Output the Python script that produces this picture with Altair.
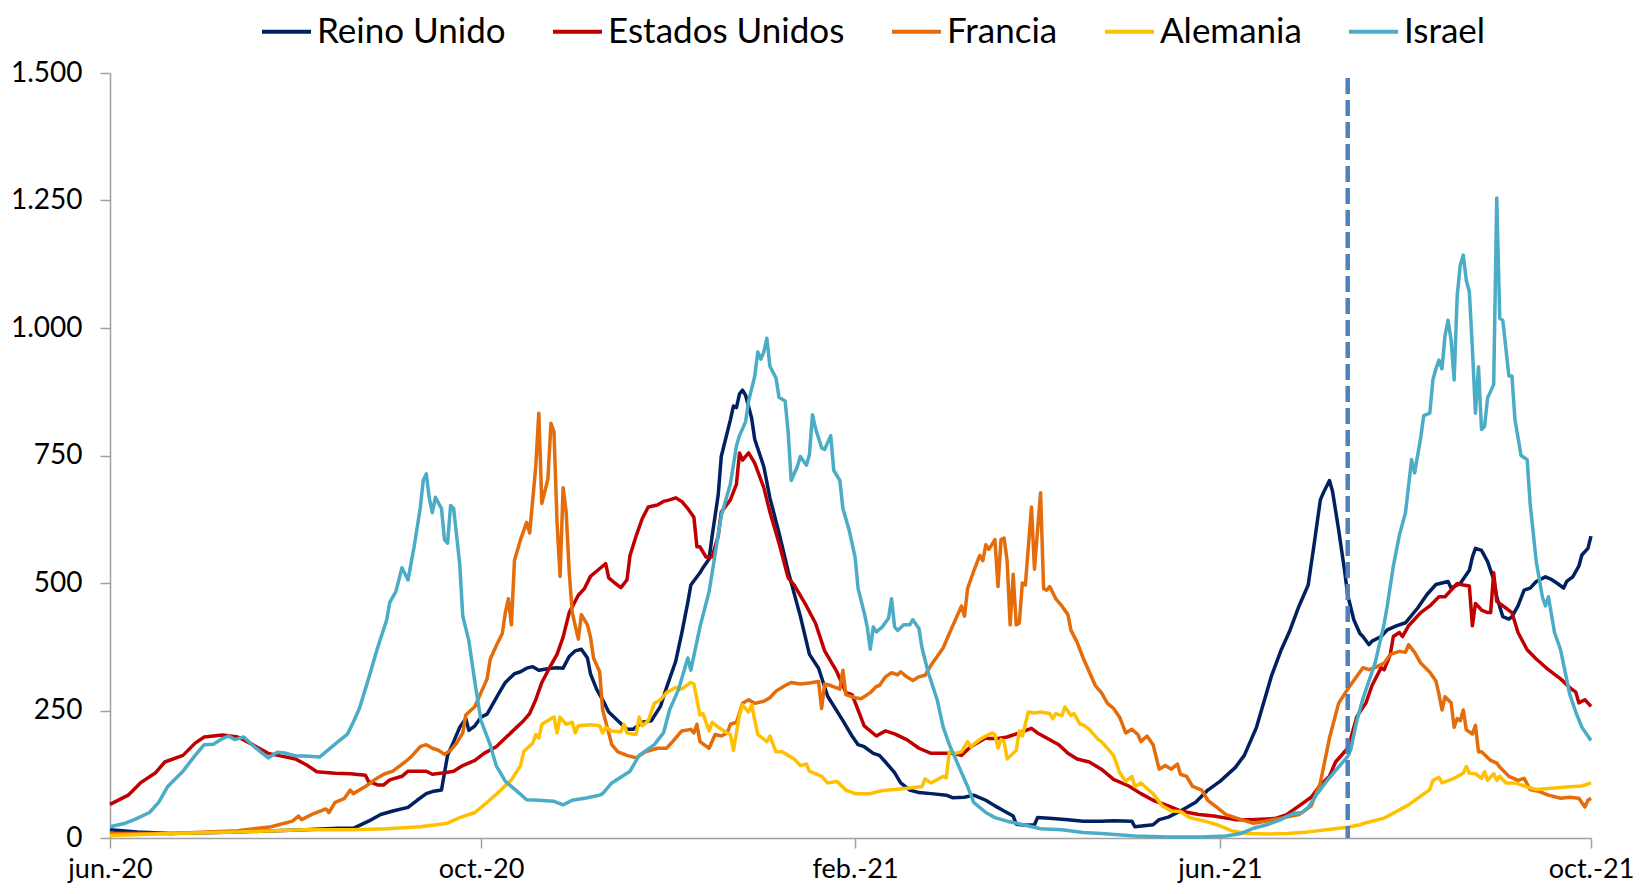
import altair as alt
import pandas as pd

# Días transcurridos desde el 1 de junio de 2020 y valores (casos por millón, media 7 días)
inicio = "2020-06-01"

reino_dias = [0, 9, 20, 42, 64, 75, 80, 85, 89, 93,
              98, 101, 104, 106, 109, 110, 111, 113, 115, 117,
              118, 120, 122, 124, 126, 128, 130, 133, 135, 137,
              139, 141, 145, 147, 149, 151, 153, 155, 157, 158,
              160, 162, 164, 167, 170, 172, 175, 178, 181, 183,
              186, 188, 190, 191, 194, 195, 197, 198, 200, 201,
              204, 205, 206, 207, 208, 209, 211, 212, 215, 217,
              220, 223, 227, 230, 233, 236, 241, 244, 246, 248,
              251, 253, 255, 258, 260, 263, 266, 270, 275, 277,
              281, 284, 288, 291, 294, 297, 298, 301, 304, 305,
              310, 315, 320, 326, 330, 336, 337, 343, 345, 348,
              352, 357, 361, 365, 370, 373, 377, 382, 385, 388,
              391, 394, 396, 398, 399, 401, 402, 404, 406, 407,
              409, 411, 412, 414, 415, 418, 420, 423, 426, 430,
              433, 436, 440, 441, 444, 447, 448, 449, 451, 453,
              455, 456, 458, 460, 461, 463, 465, 467, 469, 472,
              474, 476, 478, 479, 481, 483, 484, 486, 487]
reino_vals = [16, 12, 9, 12, 16, 19, 19, 33, 46, 53,
              60, 74, 87, 91, 94, 128, 162, 189, 217, 234,
              211, 220, 237, 243, 264, 285, 305, 322, 326, 333,
              336, 329, 333, 334, 333, 356, 367, 370, 353, 322,
              292, 271, 247, 230, 213, 213, 227, 230, 258, 295,
              346, 401, 462, 496, 520, 530, 547, 592, 673, 748,
              820, 847, 844, 871, 878, 868, 823, 782, 728, 667,
              598, 523, 435, 360, 333, 278, 230, 200, 183, 179,
              166, 162, 149, 128, 108, 94, 89, 87, 84, 79,
              80, 84, 74, 63, 53, 43, 27, 25, 26, 40,
              38, 36, 33, 33, 34, 33, 22, 26, 36, 41,
              53, 70, 94, 111, 138, 162, 217, 319, 367, 407,
              455, 496, 578, 663, 677, 701, 680, 605, 523, 476,
              428, 401, 395, 379, 386, 395, 408, 416, 422, 451,
              477, 497, 503, 490, 499, 525, 551, 568, 564, 542,
              507, 473, 434, 429, 434, 455, 486, 490, 503, 512,
              507, 499, 490, 503, 512, 533, 555, 568, 592]

eeuu_dias = [0, 6, 10, 15, 18, 24, 28, 31, 37, 42,
             46, 52, 56, 61, 65, 68, 74, 79, 84, 85,
             88, 90, 92, 96, 98, 102, 104, 106, 110, 113,
             116, 120, 123, 127, 130, 133, 136, 138, 140, 142,
             145, 147, 149, 151, 154, 156, 158, 160, 163, 164,
             166, 168, 170, 171, 173, 175, 177, 180, 182, 184,
             186, 188, 190, 192, 193, 194, 196, 198, 200, 201,
             204, 206, 207, 208, 210, 212, 215, 217, 220, 223,
             225, 229, 232, 235, 239, 242, 244, 246, 248, 252,
             255, 258, 262, 266, 270, 274, 277, 280, 283, 288,
             289, 292, 295, 299, 303, 305, 308, 312, 315, 318,
             322, 326, 330, 335, 339, 343, 348, 352, 358, 363,
             370, 375, 383, 387, 391, 395, 398, 401, 403, 407,
             408, 410, 413, 415, 418, 419, 421, 422, 424, 425,
             427, 429, 431, 434, 437, 439, 443, 445, 447, 448,
             449, 451, 453, 454, 455, 456, 459, 461, 463, 466,
             469, 473, 477, 480, 482, 483, 485, 487]
eeuu_vals = [66, 84, 108, 128, 149, 162, 186, 198, 202, 198,
             186, 166, 161, 155, 142, 130, 127, 126, 123, 111,
             104, 104, 114, 121, 131, 131, 131, 125, 128, 131,
             142, 152, 166, 179, 196, 213, 230, 244, 271, 305,
             339, 360, 394, 442, 476, 489, 513, 523, 538, 510,
             500, 491, 506, 554, 592, 626, 649, 653, 660, 663,
             667, 660, 646, 629, 571, 571, 551, 551, 592, 639,
             663, 694, 755, 741, 755, 735, 687, 639, 578, 510,
             496, 455, 421, 367, 326, 285, 281, 251, 220, 200,
             210, 204, 193, 176, 166, 166, 166, 162, 179, 196,
             195, 195, 198, 206, 215, 206, 196, 183, 166, 155,
             149, 135, 115, 102, 87, 74, 63, 53, 46, 43,
             36, 36, 38, 46, 63, 80, 104, 121, 149, 176,
             195, 238, 265, 299, 334, 330, 360, 395, 403, 395,
             416, 429, 442, 455, 473, 473, 499, 496, 494, 416,
             460, 447, 442, 442, 520, 464, 451, 442, 403, 369,
             351, 330, 312, 295, 286, 265, 271, 258]

francia_dias = [0, 20, 42, 53, 60, 62, 63, 67, 71, 72,
                74, 77, 79, 80, 84, 87, 90, 93, 97, 99,
                102, 104, 106, 108, 110, 112, 114, 116, 117, 120,
                122, 124, 125, 127, 129, 130, 131, 132, 133, 135,
                137, 138, 140, 141, 142, 144, 145, 146, 147, 148,
                149, 150, 151, 152, 154, 155, 157, 158, 159, 161,
                162, 164, 165, 167, 170, 173, 176, 180, 183, 185,
                188, 191, 192, 193, 194, 197, 199, 201, 203, 204,
                206, 208, 210, 212, 215, 217, 219, 222, 224, 227,
                230, 233, 234, 235, 237, 240, 241, 242, 245, 247,
                250, 252, 253, 255, 257, 259, 260, 262, 264, 266,
                268, 270, 272, 274, 276, 278, 280, 281, 282, 284,
                286, 287, 288, 289, 291, 292, 293, 294, 295, 296,
                297, 298, 299, 300, 301, 303, 304, 306, 307, 308,
                309, 311, 313, 315, 316, 318, 320, 322, 324, 326,
                328, 330, 332, 334, 336, 338, 339, 341, 343, 345,
                347, 349, 351, 352, 354, 356, 359, 361, 364, 367,
                372, 376, 380, 386, 391, 395, 398, 401, 404, 407,
                410, 412, 414, 416, 419, 421, 424, 426, 427, 429,
                431, 434, 436, 437, 438, 439, 441, 442, 443, 444,
                445, 446, 448, 449, 450, 451, 454, 456, 457, 460,
                463, 465, 467, 470, 473, 477, 480, 483, 485, 486,
                487]
francia_vals = [9, 9, 14, 22, 33, 43, 36, 48, 57, 50,
                70, 77, 94, 87, 101, 114, 125, 131, 149, 159,
                179, 183, 176, 172, 164, 172, 186, 206, 241, 258,
                285, 312, 350, 377, 401, 442, 469, 418, 544, 585,
                619, 598, 728, 833, 656, 704, 813, 796, 619, 513,
                687, 639, 523, 442, 390, 438, 418, 394, 353, 326,
                251, 206, 183, 169, 162, 157, 169, 176, 176, 189,
                210, 213, 206, 223, 189, 176, 203, 200, 206, 223,
                227, 264, 271, 264, 268, 275, 288, 299, 305, 302,
                304, 307, 254, 302, 299, 292, 329, 281, 275, 273,
                285, 297, 299, 316, 324, 320, 326, 316, 309, 316,
                319, 339, 356, 373, 401, 428, 455, 435, 489, 523,
                554, 544, 575, 566, 585, 493, 585, 588, 544, 418,
                517, 418, 421, 500, 496, 649, 527, 677, 489, 486,
                493, 469, 455, 438, 407, 384, 353, 326, 299, 285,
                264, 254, 237, 206, 213, 203, 189, 200, 183, 135,
                142, 135, 145, 125, 121, 101, 94, 74, 60, 46,
                36, 29, 33, 40, 46, 63, 108, 196, 264, 292,
                317, 334, 330, 334, 343, 360, 366, 364, 379, 364,
                343, 325, 308, 282, 251, 277, 265, 217, 234, 230,
                251, 212, 204, 221, 169, 169, 152, 147, 139, 121,
                113, 117, 95, 91, 84, 78, 80, 78, 61, 74,
                78]

alemania_dias = [0, 20, 42, 64, 80, 91, 102, 111, 115, 120,
                 124, 128, 132, 135, 136, 139, 140, 141, 142, 145,
                 146, 147, 148, 150, 152, 153, 154, 158, 161, 162,
                 163, 165, 168, 169, 170, 173, 174, 175, 177, 179,
                 181, 183, 186, 188, 191, 192, 194, 195, 197, 198,
                 200, 203, 204, 205, 207, 208, 210, 211, 213, 216,
                 217, 219, 221, 223, 225, 227, 229, 230, 234, 236,
                 239, 242, 245, 250, 254, 258, 263, 267, 268, 270,
                 274, 275, 276, 278, 280, 282, 283, 286, 288, 290,
                 291, 292, 293, 294, 295, 298, 299, 300, 302, 304,
                 306, 309, 310, 311, 313, 314, 316, 317, 319, 320,
                 322, 325, 326, 329, 330, 332, 334, 336, 337, 339,
                 341, 343, 346, 349, 352, 355, 360, 364, 369, 374,
                 381, 387, 394, 400, 407, 411, 413, 419, 423, 427,
                 431, 434, 435, 437, 438, 442, 445, 446, 447, 449,
                 451, 452, 453, 455, 456, 457, 459, 462, 466, 469,
                 473, 479, 484, 487]
alemania_vals = [5, 9, 12, 16, 16, 18, 22, 29, 40, 50,
                 70, 91, 114, 142, 169, 186, 203, 196, 223, 234,
                 237, 206, 237, 223, 227, 206, 220, 222, 220, 206,
                 217, 210, 208, 223, 206, 203, 237, 220, 230, 264,
                 271, 285, 295, 292, 305, 302, 241, 244, 210, 227,
                 217, 206, 203, 172, 241, 261, 247, 261, 203, 189,
                 200, 169, 169, 162, 155, 142, 145, 131, 121, 108,
                 111, 94, 87, 87, 93, 95, 98, 101, 116, 108,
                 121, 118, 169, 166, 169, 189, 179, 193, 200, 206,
                 203, 176, 193, 189, 155, 172, 210, 200, 247, 245,
                 247, 244, 234, 244, 240, 257, 240, 244, 223, 222,
                 213, 193, 189, 169, 162, 128, 111, 121, 101, 108,
                 97, 87, 63, 53, 52, 40, 33, 26, 14, 9,
                 8, 9, 12, 16, 21, 26, 30, 39, 52, 65,
                 82, 95, 113, 119, 108, 117, 127, 140, 127, 126,
                 117, 130, 113, 126, 113, 121, 108, 108, 100, 95,
                 97, 100, 102, 108]

israel_dias = [0, 5, 8, 13, 16, 19, 24, 28, 31, 34,
               37, 39, 41, 44, 48, 52, 55, 58, 61, 64,
               69, 74, 78, 80, 82, 85, 88, 91, 92, 94,
               96, 98, 100, 102, 103, 104, 105, 106, 107, 109,
               110, 111, 112, 113, 115, 116, 118, 120, 122, 125,
               127, 130, 134, 137, 141, 146, 149, 152, 157, 161,
               162, 165, 171, 174, 179, 182, 184, 187, 190, 191,
               194, 197, 199, 201, 204, 206, 207, 209, 210, 212,
               213, 214, 215, 216, 217, 219, 220, 222, 223, 224,
               226, 227, 229, 230, 231, 232, 234, 235, 237, 238,
               240, 241, 243, 244, 245, 246, 248, 249, 250, 251,
               252, 254, 256, 257, 258, 259, 261, 263, 264, 266,
               267, 269, 272, 274, 276, 279, 282, 284, 288, 291,
               295, 301, 306, 313, 320, 326, 337, 348, 359, 367,
               372, 376, 381, 385, 389, 392, 394, 397, 400, 403,
               407, 408, 410, 412, 414, 416, 419, 420, 422, 424,
               426, 428, 429, 431, 432, 434, 435, 436, 437, 438,
               439, 440, 441, 442, 443, 444, 445, 446, 447, 448,
               449, 450, 451, 452, 453, 455, 456, 457, 458, 460,
               461, 462, 464, 466, 467, 469, 471, 472, 473, 475,
               477, 480, 482, 484, 487]
israel_vals = [22, 29, 36, 50, 70, 101, 131, 162, 183, 184,
               195, 200, 193, 198, 176, 157, 168, 166, 161, 161,
               159, 184, 203, 227, 254, 312, 373, 428, 462, 483,
               530, 506, 571, 646, 701, 714, 666, 638, 668, 646,
               585, 578, 652, 646, 537, 435, 387, 305, 230, 183,
               142, 111, 91, 75, 74, 72, 65, 74, 79, 84,
               87, 108, 131, 162, 183, 206, 251, 292, 353, 329,
               414, 483, 557, 632, 694, 769, 789, 816, 857, 905,
               953, 939, 953, 980, 925, 902, 864, 857, 796, 701,
               728, 748, 731, 752, 830, 803, 765, 762, 789, 721,
               701, 646, 605, 578, 551, 489, 442, 414, 370, 414,
               404, 414, 431, 469, 414, 407, 418, 418, 428, 411,
               373, 326, 271, 217, 183, 142, 101, 70, 50, 40,
               33, 25, 18, 16, 11, 9, 4, 2, 2, 4,
               9, 19, 27, 36, 48, 50, 60, 87, 111, 132,
               160, 173, 230, 273, 308, 343, 421, 455, 533, 594,
               638, 742, 716, 785, 828, 833, 898, 920, 937, 920,
               985, 1015, 976, 898, 1063, 1123, 1143, 1093, 1071, 959,
               833, 924, 801, 807, 863, 889, 1255, 1019, 1015, 906,
               906, 820, 750, 742, 655, 542, 473, 455, 473, 403,
               369, 282, 247, 217, 191]

paises = ["Reino Unido", "Estados Unidos", "Francia", "Alemania", "Israel"]
colores = ["#002060", "#C00000", "#E46C0A", "#FFC000", "#4BACC6"]

fecha_linea = "2021-07-13"          # línea vertical discontinua
linea_tramo = [0, 1490]

series = [
    ("Reino Unido", reino_dias, reino_vals),
    ("Estados Unidos", eeuu_dias, eeuu_vals),
    ("Francia", francia_dias, francia_vals),
    ("Alemania", alemania_dias, alemania_vals),
    ("Israel", israel_dias, israel_vals),
]

base = pd.Timestamp(inicio)
rows = []
for nombre, dias, vals in series:
    assert len(dias) == len(vals), (nombre, len(dias), len(vals))
    for d, v in zip(dias, vals):
        rows.append({"pais": nombre,
                     "fecha": (base + pd.Timedelta(days=d)).strftime("%Y-%m-%d"),
                     "valor": v})
df = pd.DataFrame(rows)

FONT = "Lato"

x_scale = alt.Scale(type="utc",
                    domain=[alt.DateTime(year=2020, month=6, date=1, utc=True),
                            alt.DateTime(year=2021, month=10, date=1, utc=True)])
x_axis = alt.Axis(
    title=None,
    values=[alt.DateTime(year=2020, month=6, date=1, utc=True),
            alt.DateTime(year=2020, month=10, date=1, utc=True),
            alt.DateTime(year=2021, month=2, date=1, utc=True),
            alt.DateTime(year=2021, month=6, date=1, utc=True),
            alt.DateTime(year=2021, month=10, date=1, utc=True)],
    labelExpr="(utcmonth(datum.value)==5 ? 'jun.' : utcmonth(datum.value)==9 ? 'oct.' : 'feb.') + '-' + utcFormat(datum.value, '%y')",
    labelFlush=False, labelOverlap=False, labelBound=False,
    labelFontSize=27,
    tickSize=10, labelPadding=8, grid=False,
)
y_axis = alt.Axis(
    title=None, values=[0, 250, 500, 750, 1000, 1250, 1500],
    labelExpr="replace(format(datum.value, ','), ',', '.')",
    tickSize=10, labelPadding=18, grid=False,
)

lineas = alt.Chart(df).mark_line(strokeWidth=3.5, strokeJoin="round").encode(
    x=alt.X("fecha:T", scale=x_scale, axis=x_axis),
    y=alt.Y("valor:Q", scale=alt.Scale(domain=[0, 1500], nice=False), axis=y_axis),
    color=alt.Color("pais:N",
                    scale=alt.Scale(domain=paises, range=colores),
                    sort=paises,
                    legend=alt.Legend(
                        title=None, orient="none", direction="horizontal",
                        legendX=150, legendY=-68,
                        symbolType="stroke", symbolSize=2401, symbolStrokeWidth=4,
                        labelFont=FONT, labelFontSize=35, labelColor="black",
                        labelOffset=4, columnPadding=39, labelLimit=400,
                    )),
)

vline_df = pd.DataFrame({"fecha": [fecha_linea],
                         "valor": [linea_tramo[1]],
                         "valor2": [linea_tramo[0]]})
vline = alt.Chart(vline_df).mark_rule(
    color="#4F81BD", strokeWidth=4.5, strokeDash=[16, 6]
).encode(
    x=alt.X("fecha:T"),
    y=alt.Y("valor:Q"),
    y2="valor2:Q",
)

chart = alt.layer(lineas, vline).properties(
    width=1481, height=765,
    autosize=alt.AutoSizeParams(type="none"),
    padding={"left": 102, "top": 65, "right": 43, "bottom": 48},
    background="white",
).configure_view(stroke=None).configure_axis(
    labelFont=FONT, labelFontSize=28, labelColor="black",
    domainColor="#A0A0A0", tickColor="#A0A0A0", domainWidth=1.5, tickWidth=1.5,
)

chart.save("out.html", embed_options={"renderer": "svg", "actions": False})
